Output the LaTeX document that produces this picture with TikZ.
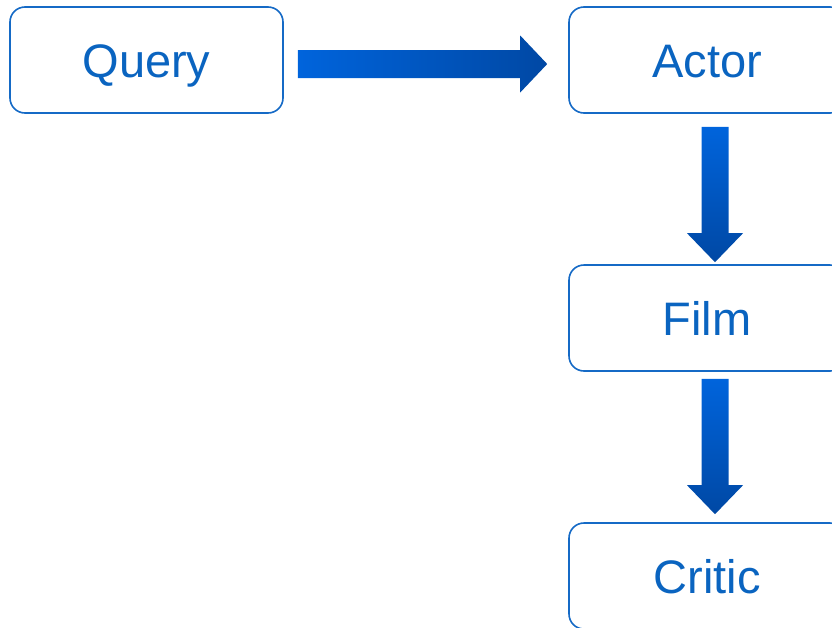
\documentclass[tikz,border=0pt]{standalone}
\usepackage{fontspec}
\setmainfont{Liberation Sans}
\usetikzlibrary{calc}
\definecolor{boxblue}{HTML}{156AC6}
\definecolor{textblue}{HTML}{0A64C0}
\definecolor{flowtop}{HTML}{0064DC}
\definecolor{flowbot}{HTML}{0048A4}
\tikzset{
  entity/.style={draw=boxblue, line width=1.6pt, rounded corners=15pt, fill=white,
    minimum width=274pt, minimum height=106pt, inner sep=0pt,
    text height=35pt, text depth=0pt,
    text=textblue, font=\fontsize{47}{56}\selectfont},
  hflow/.style={left color=flowtop, right color=flowbot, draw=none},
  vflow/.style={top color=flowtop, bottom color=flowbot, draw=none},
}
\begin{document}
\begin{tikzpicture}[x=1pt, y=-1pt]
\useasboundingbox (0,0) rectangle (832,627);

% entities
\node[entity, minimum width=273pt] (query) at (146.5,60) {Query};
\node[entity, minimum width=276pt] (actor) at (707,60) {Actor};
\node[entity, minimum width=276pt] (film) at (707,318) {Film};
\node[entity, minimum width=276pt] (critic) at (707,576) {Critic};

% block arrow Query -> Actor
\coordinate (h0) at ($(query.east)+(14,4)$);
\coordinate (h1) at ($(actor.west)+(-21,4)$);
\shade[hflow] ($(h0)+(0,-14)$) -- ($(h1)+(-27,-14)$) -- ($(h1)+(-27,-28.5)$) -- (h1)
  -- ($(h1)+(-27,28.5)$) -- ($(h1)+(-27,14)$) -- ($(h0)+(0,14)$) -- cycle;

% block arrow Actor -> Film
\coordinate (v0) at ($(actor.south)+(8,13)$);
\coordinate (v1) at ($(film.north)+(8,-2)$);
\shade[vflow] ($(v0)+(-13.5,0)$) -- ($(v1)+(-13.5,-29)$) -- ($(v1)+(-28,-29)$) -- (v1)
  -- ($(v1)+(28,-29)$) -- ($(v1)+(13.5,-29)$) -- ($(v0)+(13.5,0)$) -- cycle;

% block arrow Film -> Critic
\coordinate (w0) at ($(film.south)+(8,7)$);
\coordinate (w1) at ($(critic.north)+(8,-8)$);
\shade[vflow] ($(w0)+(-13.5,0)$) -- ($(w1)+(-13.5,-29)$) -- ($(w1)+(-28,-29)$) -- (w1)
  -- ($(w1)+(28,-29)$) -- ($(w1)+(13.5,-29)$) -- ($(w0)+(13.5,0)$) -- cycle;
\end{tikzpicture}
\end{document}
